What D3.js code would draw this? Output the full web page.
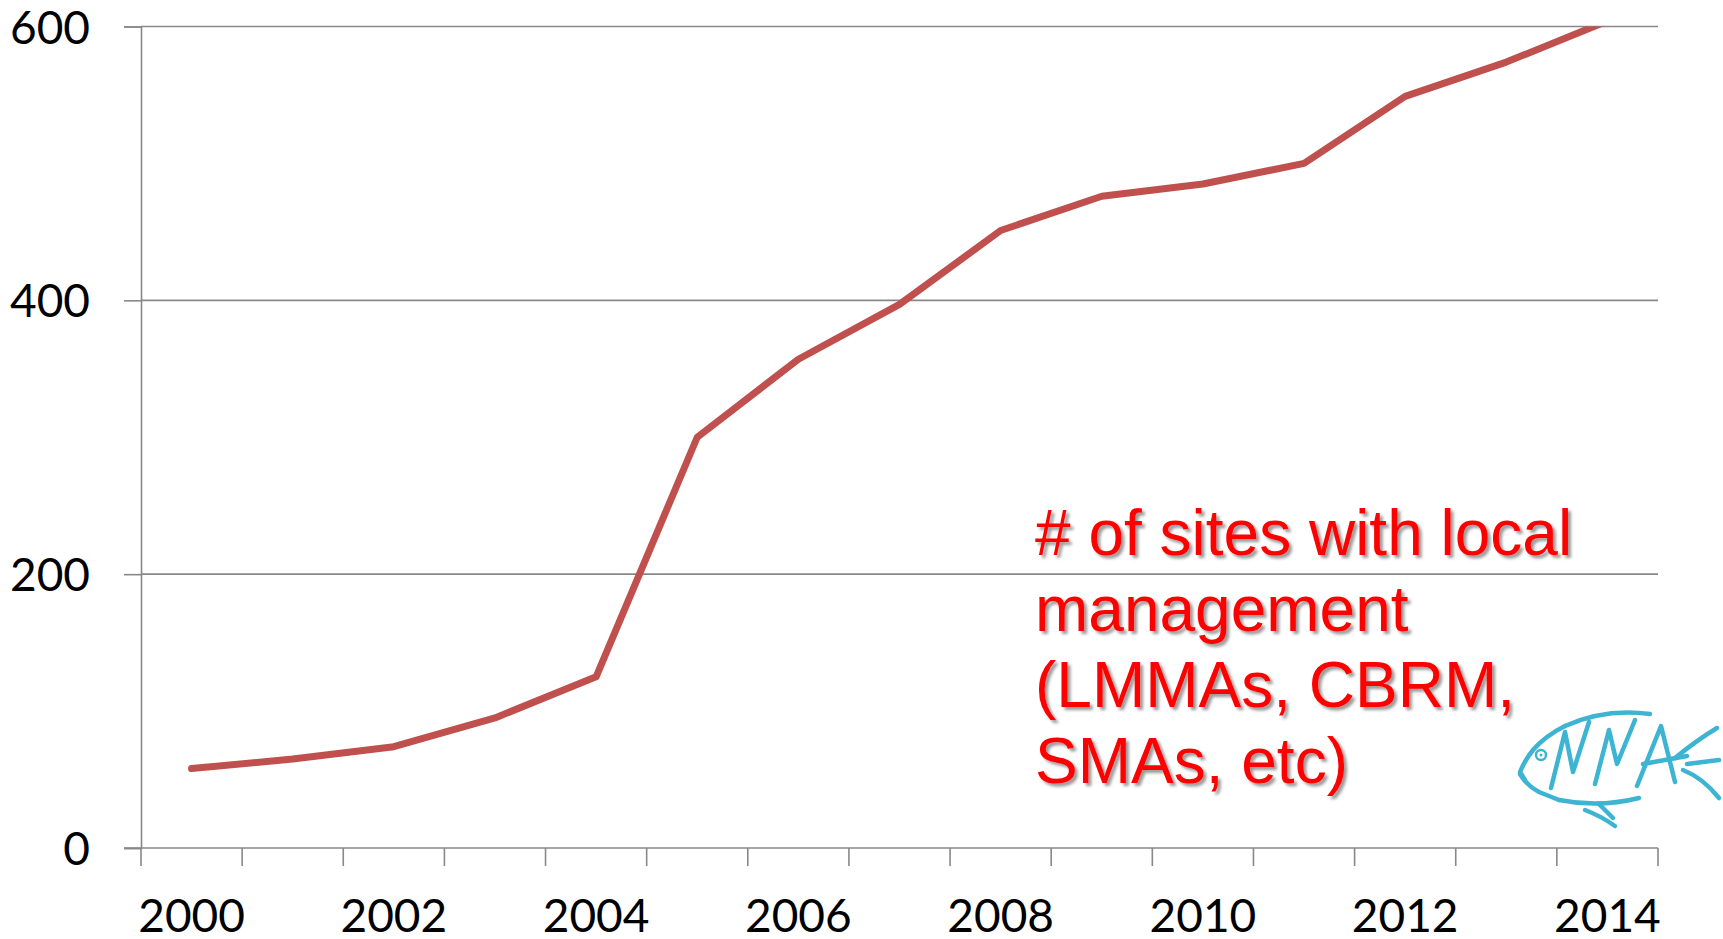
<!DOCTYPE html>
<html>
<head>
<meta charset="utf-8">
<script src="https://cdn.jsdelivr.net/npm/d3@7"></script>
<style>
  html, body { margin: 0; padding: 0; background: #ffffff; }
  svg { display: block; }
</style>
</head>
<body>
<svg id="chart" width="1723" height="939"></svg>
<script>
// ---- data ----
const years = [2000, 2001, 2002, 2003, 2004, 2005, 2006, 2007, 2008, 2009, 2010, 2011, 2012, 2013, 2014];
const sites = [58, 65, 74, 95, 125, 300, 357, 397, 451, 476, 485, 500, 549, 574, 604];
const yTickValues = [0, 200, 400, 600];
const xLabelYears = [2000, 2002, 2004, 2006, 2008, 2010, 2012, 2014];
const noteLines = ["# of sites with local", "management", "(LMMAs, CBRM,", "SMAs, etc)"];

(function () {
// ---- layout ----
const svg = d3.select("#chart");
const mLeft = 141, mRight = 1658, mTop = 26.5, mBottom = 848;
const axisColor = "#888888";
const tickFont = "Lato, 'Open Sans', sans-serif";

svg.append("rect").attr("width", 1723).attr("height", 939).attr("fill", "#ffffff");

const x = d3.scaleBand().domain(years).range([mLeft, mRight]).padding(0);
const y = d3.scaleLinear().domain([0, 600]).range([mBottom, mTop]);

// y axis ticks + labels
const yAxis = d3.axisLeft(y).tickValues(yTickValues).tickSize(17).tickPadding(34).tickFormat(d3.format("d"));
const gy = svg.append("g").attr("transform", `translate(${mLeft},0)`).call(yAxis);
gy.select(".domain").attr("stroke", axisColor).attr("stroke-width", 1.6);
gy.selectAll(".tick line").attr("stroke", axisColor).attr("stroke-width", 1.6);
gy.selectAll(".tick text")
  .attr("font-family", tickFont).attr("font-size", 46).attr("fill", "#000")
  .attr("dy", "0.36em");

// gridlines
svg.append("g").selectAll("line")
  .data(yTickValues.filter(v => v > 0))
  .join("line")
  .attr("x1", mLeft).attr("x2", mRight)
  .attr("y1", d => y(d)).attr("y2", d => y(d))
  .attr("stroke", axisColor).attr("stroke-width", 1.6);

// x axis
const gx = svg.append("g").attr("transform", `translate(0,${mBottom})`);
gx.append("line").attr("x1", mLeft - 17).attr("x2", mRight).attr("y1", 0).attr("y2", 0)
  .attr("stroke", axisColor).attr("stroke-width", 1.6);
const boundaries = years.map(d => x(d)).concat([x.range()[1]]);
gx.selectAll("line.tk").data(boundaries).join("line").attr("class", "tk")
  .attr("x1", d => d).attr("x2", d => d).attr("y1", 0).attr("y2", 18)
  .attr("stroke", axisColor).attr("stroke-width", 1.6);
const xAxis = d3.axisBottom(x).tickValues(xLabelYears).tickSize(0).tickFormat(d3.format("d"));
const gxl = svg.append("g").attr("transform", `translate(0,${mBottom})`).call(xAxis);
gxl.select(".domain").remove();
gxl.selectAll(".tick text")
  .attr("font-family", tickFont).attr("font-size", 46).attr("fill", "#000")
  .attr("y", 84).attr("dy", "0");

// line (clipped to plot area)
const defs = svg.append("defs");
defs.append("clipPath").attr("id", "plotclip")
  .append("rect").attr("x", mLeft).attr("y", mTop).attr("width", mRight - mLeft).attr("height", mBottom - mTop);

const line = d3.line()
  .x((d, i) => x(years[i]) + x.bandwidth() / 2)
  .y(d => y(d));

svg.append("path")
  .datum(sites)
  .attr("clip-path", "url(#plotclip)")
  .attr("d", line)
  .attr("fill", "none")
  .attr("stroke", "#C0504D")
  .attr("stroke-width", 7)
  .attr("stroke-linejoin", "round")
  .attr("stroke-linecap", "round");

// annotation text with shadow
const f = defs.append("filter").attr("id", "shadow").attr("x", "-10%").attr("y", "-10%").attr("width", "130%").attr("height", "140%");
f.append("feDropShadow").attr("dx", 3).attr("dy", 3).attr("stdDeviation", 1.5)
  .attr("flood-color", "#000").attr("flood-opacity", 0.4);

const note = svg.append("g").attr("filter", "url(#shadow)");
note.selectAll("text").data(noteLines).join("text")
  .attr("x", 1035)
  .attr("y", (d, i) => 555 + i * 76)
  .attr("font-family", "'Liberation Sans', Arial, sans-serif")
  .attr("font-size", 64)
  .attr("fill", "#FF0000")
  .text(d => d);

// decorative fish logo
const fish = svg.append("g").attr("transform", "translate(1515,700)")
  .attr("fill", "none").attr("stroke", "#3DB4D2").attr("stroke-width", 4.5)
  .attr("stroke-linecap", "round").attr("stroke-linejoin", "round");
const fishPaths = [
  "M10,80 L5,72 Q10,60 18,50 Q30,36 50,26",
  "M5,74 Q12,86 24,92 L44,100",
  "M50,26 Q90,8 135,14",
  "M36,88 L50,32 L58,72 L74,22",
  "M80,84 L94,30 L102,64 L120,20",
  "M122,86 L146,26 L160,82",
  "M128,64 L172,56",
  "M160,58 Q182,40 202,28",
  "M168,70 Q188,78 204,98",
  "M172,64 L204,60",
  "M44,100 Q84,108 124,98",
  "M70,110 Q86,116 100,126",
  "M84,104 L98,118"
];
fish.selectAll("path").data(fishPaths).join("path").attr("d", d => d);
fish.append("circle").attr("cx", 26).attr("cy", 55).attr("r", 5).attr("stroke-width", 2.5);
fish.append("circle").attr("cx", 26).attr("cy", 55).attr("r", 1.5).attr("fill", "#3DB4D2").attr("stroke", "none");
})();
</script>
</body>
</html>
